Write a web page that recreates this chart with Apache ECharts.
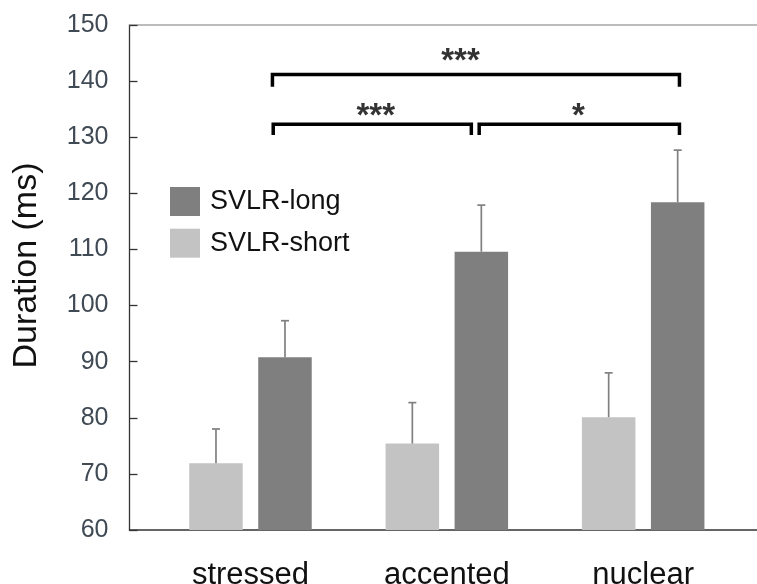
<!DOCTYPE html>
<html><head><meta charset="utf-8">
<script src="https://cdn.jsdelivr.net/npm/echarts@6/dist/echarts.min.js"></script>
<style>html,body{margin:0;padding:0;background:#fff}#c{width:757px;height:584px}</style>
</head><body><div id="c"></div>
<script>
// ---- data ----
const categories = ['stressed', 'accented', 'nuclear'];
const seriesNames = ['SVLR-short', 'SVLR-long'];
const shortMeans = [71.9, 75.4, 80.1];
const shortErrors = [6.1, 7.3, 7.9];
const longMeans = [90.8, 109.6, 118.4];
const longErrors = [6.5, 8.3, 9.3];
const yMin = 60, yMax = 150, yStep = 10;
const yTitle = 'Duration (ms)';
// significance brackets (x in category-index units, y in ms)
const bracketStart = [0.112, 0.116, 1.165];
const bracketEnd = [2.185, 1.125, 2.185];
const bracketLevel = [141.2, 132.3, 132.3];
const bracketFoot = [139.0, 130.4, 130.4];
const starText = ['***', '***', '*'];
const starX = [1.070, 0.638, 1.671];
const starY = [143.4, 133.7, 133.7];

// ---- chart ----
const FONT = '"Liberation Sans", Arial, sans-serif';
const chart = echarts.init(document.getElementById('c'), null, {renderer: 'canvas'});
const BAR_W = 53.5, BAR_GAP = 15.5;
const half = (BAR_W + BAR_GAP) / 2;

function errItem(offset) {
  return function (params, api) {
    const i = api.value(0), m = api.value(1), e = api.value(2);
    const b = api.coord([i, m]), t = api.coord([i, m + e]);
    const x = b[0] + offset;
    const st = {stroke: '#808080', lineWidth: 1.7};
    return {type: 'group', children: [
      {type: 'line', shape: {x1: x, y1: b[1], x2: x, y2: t[1]}, style: st},
      {type: 'line', shape: {x1: x - 4, y1: t[1], x2: x + 4, y2: t[1]}, style: st}
    ]};
  };
}

const bracketSeries = bracketStart.map((s, k) => ({
  type: 'line', xAxisIndex: 0, yAxisIndex: 0, symbol: 'none', silent: true, z: 5,
  lineStyle: {color: '#000', width: 3.5, join: 'miter', cap: 'butt'},
  data: [[s, bracketFoot[k]], [s, bracketLevel[k]], [bracketEnd[k], bracketLevel[k]], [bracketEnd[k], bracketFoot[k]]]
}));

const option = {
  animation: false,
  backgroundColor: '#fff',
  grid: [
    {left: 129.5, right: 0, top: 25, bottom: 54, outerBoundsMode: 'none', containLabel: false},
    {left: 152.3, right: 15.65, top: 25, bottom: 54, outerBoundsMode: 'none', containLabel: false}
  ],
  legend: {
    data: ['SVLR-long', 'SVLR-short'], orient: 'vertical', left: 170, top: 187, padding: 0,
    icon: 'rect', itemWidth: 30, itemHeight: 29, itemGap: 12.7,
    textStyle: {fontSize: 27, color: '#111', fontFamily: FONT, padding: [0, 0, 0, 5]}
  },
  xAxis: [
    {type: 'value', gridIndex: 0, min: -0.616, max: 2.58, position: 'bottom',
     axisLine: {show: true, onZero: false, lineStyle: {color: '#333', width: 1.5}}, axisTick: {show: false},
     axisLabel: {show: false}, splitLine: {show: false}},
    {type: 'value', gridIndex: 0, min: -0.616, max: 2.58, position: 'top',
     axisLine: {show: true, onZero: false, lineStyle: {color: '#a6a6a6', width: 1.5}}, axisTick: {show: false},
     axisLabel: {show: false}, splitLine: {show: false}},
    {type: 'category', gridIndex: 1, data: categories,
     axisLine: {show: false}, axisTick: {show: false},
     axisLabel: {fontSize: 31, color: '#111', fontFamily: FONT, margin: 29.5}}
  ],
  yAxis: [
    {type: 'value', gridIndex: 0, min: yMin, max: yMax, interval: yStep,
     name: yTitle, nameLocation: 'middle', nameGap: 86,
     nameTextStyle: {fontSize: 34, color: '#111', fontFamily: FONT, padding: [0, 0, 0, 24]},
     axisLine: {show: true, onZero: false, lineStyle: {color: '#333', width: 1.3}},
     axisTick: {show: true, inside: true, length: 8, lineStyle: {color: '#333', width: 1.3}},
     axisLabel: {fontSize: 25, color: '#404a55', fontFamily: FONT, margin: 21},
     splitLine: {show: false}},
    {type: 'value', gridIndex: 1, min: yMin, max: yMax, interval: yStep, show: false, splitLine: {show: false}}
  ],
  series: [
    {name: seriesNames[0], type: 'bar', xAxisIndex: 2, yAxisIndex: 1, barWidth: BAR_W,
     barGap: (BAR_GAP / BAR_W * 100).toFixed(1) + '%', itemStyle: {color: '#c3c3c3'}, data: shortMeans},
    {name: seriesNames[1], type: 'bar', xAxisIndex: 2, yAxisIndex: 1, barWidth: BAR_W,
     itemStyle: {color: '#7f7f7f'}, data: longMeans},
    {type: 'custom', xAxisIndex: 2, yAxisIndex: 1, z: 4, renderItem: errItem(-half),
     data: categories.map((c, i) => [i, shortMeans[i], shortErrors[i]])},
    {type: 'custom', xAxisIndex: 2, yAxisIndex: 1, z: 4, renderItem: errItem(half),
     data: categories.map((c, i) => [i, longMeans[i], longErrors[i]])},
    ...bracketSeries,
    {type: 'scatter', xAxisIndex: 0, yAxisIndex: 0, symbolSize: 1, silent: true, z: 6,
     itemStyle: {color: 'rgba(0,0,0,0)'},
     label: {show: true, position: 'inside', formatter: '{b}', fontSize: 33, fontWeight: 'bold', color: '#000', fontFamily: FONT},
     data: starText.map((t, k) => ({name: t, value: [starX[k], starY[k]]}))}
  ]
};
chart.setOption(option);
</script></body></html>
